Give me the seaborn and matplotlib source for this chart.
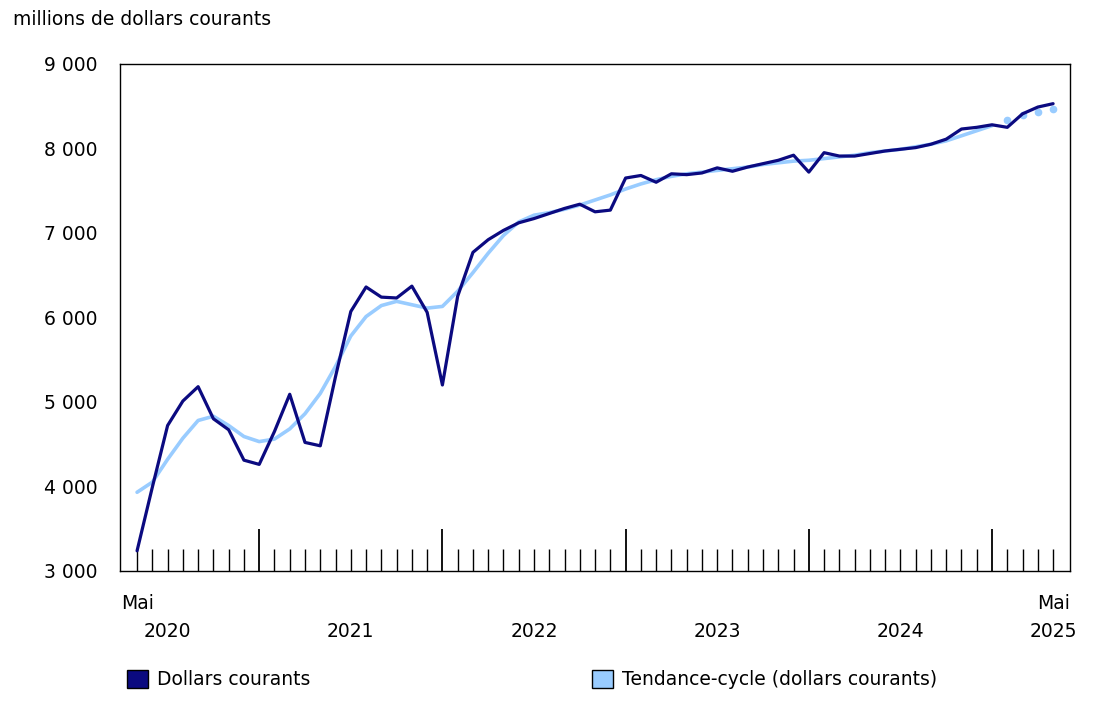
import numpy as np
import pandas as pd
import matplotlib
matplotlib.use("Agg")
import matplotlib.pyplot as plt
import seaborn as sns
from matplotlib.patches import Patch

# Monthly values, May 2020 to May 2025
dollars = [3237, 3990, 4720, 5010, 5180, 4800, 4670, 4310, 4260, 4650,
           5090, 4520, 4480, 5300, 6070, 6360, 6240, 6230, 6370, 6060,
           5200, 6250, 6770, 6920, 7030, 7120, 7170, 7230, 7290, 7340,
           7250, 7270, 7650, 7680, 7600, 7700, 7690, 7710, 7770, 7730,
           7780, 7820, 7860, 7920, 7720, 7950, 7910, 7910, 7940, 7970,
           7990, 8010, 8050, 8110, 8230, 8250, 8280, 8250, 8410, 8490, 8530]
trend = [3930, 4050, 4320, 4570, 4780, 4830, 4720, 4590, 4530, 4560,
         4680, 4860, 5100, 5420, 5780, 6010, 6140, 6190, 6150, 6110,
         6130, 6310, 6530, 6760, 6970, 7130, 7210, 7240, 7280, 7330,
         7390, 7450, 7520, 7580, 7630, 7670, 7700, 7720, 7740, 7760,
         7780, 7810, 7830, 7850, 7860, 7880, 7900, 7920, 7950, 7970,
         7990, 8020, 8050, 8090, 8150, 8210, 8270, 8340, 8400, 8430, 8470]
n_provisional = 4  # last months of trend shown as dots
years = ["2020", "2021", "2022", "2023", "2024", "2025"]
year_pos = [2, 14, 26, 38, 50, 60]
y_ticks = [3000, 4000, 5000, 6000, 7000, 8000, 9000]

dark = "#0b0a80"
light = "#99ccff"
fs = 13.5

df = pd.DataFrame({"m": np.arange(len(dollars)), "dollars": dollars, "trend": trend})

sns.set_style("white")
plt.rcParams["font.family"] = ["DejaVu Sans"]
plt.rcParams["text.color"] = "black"
plt.rcParams["xtick.color"] = "black"
plt.rcParams["ytick.color"] = "black"

fig = plt.figure(figsize=(11.02, 7.03), dpi=100)
ax = fig.add_axes([0.109, 0.188, 0.862, 0.721])

solid = df.iloc[: len(df) - n_provisional]
sns.lineplot(data=solid, x="m", y="trend", color=light, lw=2.6, ax=ax)
prov = df.iloc[len(df) - n_provisional:]
ax.plot(prov["m"], prov["trend"], ls="none", marker="o", ms=4.5, color=light)
sns.lineplot(data=df, x="m", y="dollars", color=dark, lw=2.3, ax=ax)

ax.set_xlim(-1.11, 61.11)
ax.set_ylim(3000, 9000)
ax.set_yticks(y_ticks)
ax.set_yticklabels([f"{v:,}".replace(",", " ") for v in y_ticks], fontsize=fs)
ax.tick_params(axis="y", length=0, pad=16)
ax.set_xlabel("")
ax.set_ylabel("")
for s in ax.spines.values():
    s.set_color("black")
    s.set_linewidth(1)

# minor monthly ticks, major at January
ax.set_xticks(np.arange(0, 61), minor=True)
ax.set_xticks([8, 20, 32, 44, 56])
ax.set_xticklabels([])
ax.tick_params(axis="x", which="both", bottom=True, direction="in", color="black")
ax.tick_params(axis="x", which="minor", length=16, width=1)
ax.tick_params(axis="x", which="major", length=30, width=1.3)

trans = ax.get_xaxis_transform()
ax.text(0, -0.045, "Mai", transform=trans, ha="center", va="top", fontsize=fs)
ax.text(60, -0.045, "Mai", transform=trans, ha="center", va="top", fontsize=fs)
for lab, p in zip(years, year_pos):
    ax.text(p, -0.1, lab, transform=trans, ha="center", va="top", fontsize=fs)

fig.text(0.012, 0.972, "millions de dollars courants", fontsize=fs, va="center")

h1 = [Patch(facecolor=dark, edgecolor="black", label="Dollars courants")]
h2 = [Patch(facecolor=light, edgecolor="black", label="Tendance-cycle (dollars courants)")]
fig.legend(handles=h1, loc="center left", bbox_to_anchor=(0.1, 0.033), frameon=False,
           fontsize=fs, handlelength=1.1, handleheight=1.1, handletextpad=0.5)
fig.legend(handles=h2, loc="center left", bbox_to_anchor=(0.522, 0.033), frameon=False,
           fontsize=fs, handlelength=1.1, handleheight=1.1, handletextpad=0.5)

fig.savefig("out.png", dpi=100)
